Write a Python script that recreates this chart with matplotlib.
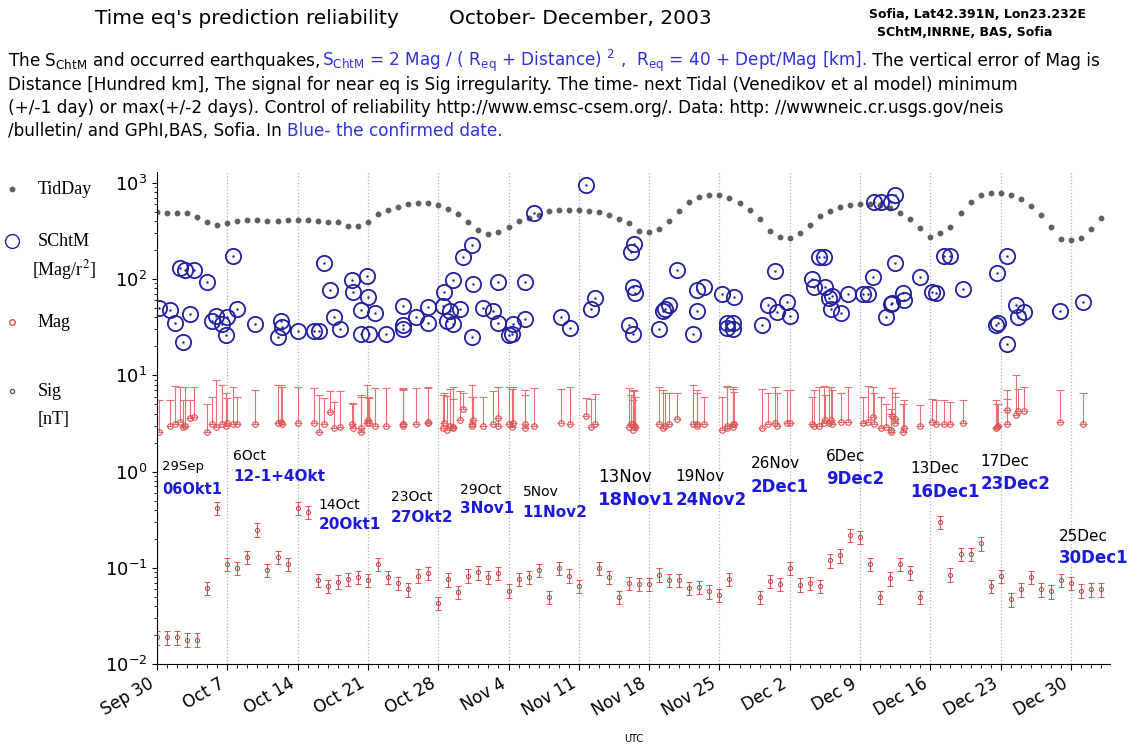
import datetime as dt
import numpy as np
import matplotlib
matplotlib.use("Agg")
import matplotlib.pyplot as plt
import matplotlib.dates as mdates
from matplotlib.lines import Line2D

start = dt.datetime(2003, 9, 30)

# TidDay, one value per day from Sep 30
tid = [490, 488, 485, 485, 437, 388, 367, 380, 400, 405, 405, 400, 400, 408, 410, 405,
       400, 392, 388, 352, 352, 393, 473, 525, 565, 600, 620, 620, 580, 530, 473, 393,
       325, 296, 310, 350, 400, 425, 465, 505, 525, 525, 520, 505, 490, 462, 420, 378,
       316, 308, 331, 397, 505, 625, 705, 745, 740, 694, 620, 521, 423, 313, 275, 265,
       298, 364, 447, 505, 565, 591, 600, 600, 591, 542, 488, 420, 336, 275, 298, 344,
       480, 625, 738, 780, 780, 745, 680, 577, 465, 344, 258, 252, 265, 331, 427]

# SChtM events: day offset from Sep 30 and value
ev_day = [0.2, 1.3, 1.8, 2.3, 2.6, 2.8, 3.3, 3.7, 5.0, 5.5, 5.9, 6.5, 6.9, 7.0, 7.6, 8.0,
          9.8, 12.0, 12.3, 12.4, 14.0, 15.6, 16.1, 16.6, 17.2, 17.6, 18.2, 19.4, 19.5,
          20.3, 20.3, 20.9, 21.0, 21.1, 21.7, 22.8, 24.5, 24.5, 24.5, 25.8, 27.0, 27.0,
          28.5, 28.6, 28.9, 29.2, 29.5, 29.5, 30.2, 30.5, 31.4, 31.5, 31.4, 32.5, 33.5,
          34.0, 34.0, 35.0, 35.3, 35.4, 36.6, 36.6, 37.5, 40.2, 41.1, 42.7, 43.2, 43.6,
          47.0, 47.4, 47.2, 47.5, 47.4, 47.6, 50.0, 50.4, 50.6, 51.0, 51.8, 53.4, 53.8,
          53.8, 54.5, 56.3, 56.8, 56.8, 57.3, 57.3, 57.4, 60.2, 60.8, 61.5, 61.7, 62.7,
          63.0, 65.2, 65.4, 65.9, 66.4, 66.5, 66.9, 67.2, 67.1, 68.1, 68.8, 70.3, 70.8,
          71.3, 71.4, 72.1, 72.6, 73.1, 73.2, 73.5, 73.1, 73.5, 74.3, 74.4, 76.0, 77.2,
          77.6, 78.4, 79.0, 80.2, 83.5, 83.7, 83.6, 84.6, 84.6, 85.5, 85.7, 86.3, 89.9, 92.2]
ev_scht = [50, 48, 35, 131, 22, 125, 43, 125, 92, 37, 41, 34, 26, 40, 175, 49,
           34, 25, 37, 32, 29, 29, 29, 145, 76, 40, 30, 98, 74,
           48, 27, 107, 65, 27, 44, 27, 52, 33, 30, 40, 51, 35,
           53, 74, 37, 46, 98, 34, 49, 168, 227, 89, 25, 50, 46,
           94, 35, 26, 27, 34, 94, 38, 487, 40, 31, 950, 49, 63,
           33, 27, 192, 233, 83, 72, 30, 46, 49, 54, 125, 27, 46,
           77, 82, 70, 35, 31, 35, 30, 65, 33, 54, 120, 45, 57,
           41, 101, 83, 168, 168, 82, 63, 67, 49, 44, 69, 69, 69,
           106, 635, 635, 40, 55, 56, 148, 635, 750, 72, 61, 106, 74,
           72, 175, 175, 78, 33, 35, 116, 175, 21, 54, 40, 45, 46, 57]
ev_mag = [2.6, 3.0, 3.1, 3.3, 2.9, 3.0, 3.6, 3.7, 2.6, 3.1, 2.9, 3.1, 3.0, 3.2, 3.1, 3.1,
          3.1, 3.2, 3.3, 3.1, 3.2, 3.2, 2.6, 3.1, 4.2, 2.8, 2.9, 3.1, 2.8,
          2.8, 2.6, 3.2, 3.4, 3.2, 3.0, 3.0, 3.1, 3.0, 3.1, 3.1, 3.3, 3.2,
          2.8, 3.2, 2.7, 3.0, 2.9, 2.8, 3.4, 4.5, 3.1, 3.4, 3.0, 3.0, 3.1,
          3.6, 3.0, 3.1, 2.9, 3.2, 3.1, 2.8, 3.0, 3.2, 3.1, 3.8, 2.9, 3.1,
          2.9, 2.7, 3.1, 3.0, 3.1, 2.9, 3.1, 2.8, 3.0, 3.1, 3.5, 3.1, 3.0,
          3.1, 3.1, 2.7, 2.8, 3.0, 3.1, 2.9, 3.1, 2.8, 3.1, 3.2, 3.0, 3.2,
          3.2, 3.1, 3.0, 3.0, 3.2, 3.4, 3.2, 3.1, 3.4, 3.3, 3.3, 3.2, 3.3,
          3.7, 3.1, 2.8, 2.9, 2.6, 3.8, 3.5, 2.7, 3.2, 2.6, 2.8, 3.0, 3.3,
          3.1, 3.1, 3.1, 3.2, 2.8, 3.0, 2.9, 3.1, 4.4, 3.9, 4.3, 4.3, 3.3, 3.1]
ev_top = [5.5, 5.6, 7.8, 7.6, 5.5, 7.6, 5.5, 7.6, 5.0, 6.0, 9.0, 7.9, 6.5, 5.8, 7.5, 6.0,
          7.0, 8.0, 7.9, 7.5, 7.6, 7.4, 6.3, 5.8, 6.8, 5.3, 6.8, 5.1, 5.0,
          5.9, 6.2, 7.9, 6.0, 5.8, 7.3, 7.3, 7.2, 7.1, 7.4, 7.3, 7.5, 7.3,
          6.2, 6.5, 6.1, 7.2, 5.7, 7.5, 6.8, 6.6, 8.0, 6.0, 6.0, 5.9, 6.8,
          7.5, 7.5, 7.5, 7.2, 7.5, 7.0, 6.2, 7.3, 7.2, 7.5, 5.8, 5.7, 6.4,
          7.3, 7.0, 6.2, 6.8, 5.6, 6.0, 7.5, 7.0, 6.5, 6.6, 6.6, 8.0, 7.0,
          6.6, 6.0, 6.0, 7.8, 7.5, 7.6, 7.2, 6.7, 7.2, 6.5, 7.6, 6.5, 7.0,
          7.0, 6.0, 7.0, 7.5, 7.8, 6.2, 7.5, 7.0, 7.5, 6.5, 7.6, 6.0, 7.8,
          7.6, 6.5, 6.0, 5.0, 4.0, 7.3, 6.6, 4.5, 6.0, 5.0, 5.5, 4.9, 5.7,
          5.5, 5.6, 5.3, 5.6, 5.5, 5.0, 5.0, 5.7, 7.0, 10.0, 7.2, 7.5, 7.0, 6.5]

# Sig [nT], one value per day (None = no data)
sig = [0.019, 0.019, 0.019, 0.018, 0.018, 0.062, 0.42, 0.11, 0.10, 0.13, 0.25, 0.095,
       0.13, 0.11, 0.42, 0.38, 0.075, 0.065, 0.072, 0.077, 0.080, 0.075, 0.11, 0.080,
       0.070, 0.060, 0.083, 0.088, 0.043, 0.076, 0.056, 0.083, 0.090, 0.080, 0.088,
       0.058, 0.077, 0.080, 0.095, 0.050, 0.10, 0.083, 0.065, None,
       0.10, 0.080, 0.050, 0.070, 0.068, 0.068, 0.085, 0.075, 0.075, 0.062, 0.063,
       0.057, 0.052, 0.077, None, None,
       0.050, 0.073, 0.068, 0.10, 0.067, 0.070, 0.065, 0.12, 0.135, 0.22, 0.21, 0.11,
       0.050, 0.078, 0.11, 0.090, 0.050, None,
       0.30, 0.085, 0.14, 0.14, 0.18, 0.065, 0.082, 0.047, 0.060, 0.080, 0.060, 0.057,
       0.075, 0.070, 0.058, 0.060, 0.060]
sig_err_frac = 0.16

# annotations: day offset, y of date label, y of prediction label, date, prediction, size
notes = [
    (0.5, 1.13, 0.65, "29Sep", "06Okt1", 9.5),
    (7.6, 1.44, 0.89, "6Oct", "12-1+4Okt", 10),
    (16.1, 0.45, 0.28, "14Oct", "20Okt1", 10),
    (23.3, 0.54, 0.33, "23Oct", "27Okt2", 10),
    (30.2, 0.64, 0.41, "29Oct", "3Nov1", 10),
    (36.4, 0.61, 0.38, "5Nov", "11Nov2", 10),
    (43.9, 0.88, 0.51, "13Nov", "18Nov1", 12),
    (51.6, 0.88, 0.51, "19Nov", "24Nov2", 11),
    (59.1, 1.22, 0.69, "26Nov", "2Dec1", 11),
    (66.6, 1.44, 0.83, "6Dec", "9Dec2", 11),
    (75.0, 1.08, 0.62, "13Dec", "16Dec1", 11),
    (82.0, 1.28, 0.74, "17Dec", "23Dec2", 11),
    (89.8, 0.21, 0.126, "25Dec", "30Dec1", 11),
]

def to_dates(days):
    return [start + dt.timedelta(days=d) for d in days]

fig = plt.figure(figsize=(11.32, 7.53), dpi=100)
ax = fig.add_axes([0.1387, 0.118, 0.842, 0.654])

blue = "#2020a0"
red = "#e05050"

ax.plot(to_dates(range(len(tid))), tid, ls="none", marker="o", ms=3.2, color="#606060")
ax.plot(to_dates(ev_day), ev_scht, ls="none", marker="o", ms=11, mfc="none", mec=blue, mew=1.3)
ax.plot(to_dates(ev_day), ev_scht, ls="none", marker=".", ms=1.5, color=blue)

mag = np.array(ev_mag)
top = np.array(ev_top)
ax.errorbar(to_dates(ev_day), mag, yerr=[np.zeros_like(mag), top - mag], fmt="o", ms=4,
            mfc="none", mec=red, ecolor="#e87070", elinewidth=0.8, capsize=3, capthick=0.7, mew=0.8)

sd = [d for d, v in enumerate(sig) if v is not None]
sv = np.array([v for v in sig if v is not None])
ax.errorbar(to_dates(sd), sv, yerr=sv * sig_err_frac, fmt="o", ms=3, mfc="none", mec="#a05050",
            ecolor=red, elinewidth=0.8, capsize=2.5, capthick=0.8, mew=0.7)

for d, y1, y2, lab, pred, fs in notes:
    x = start + dt.timedelta(days=d)
    ax.text(x, y1, lab, fontsize=fs, color="black", va="center", ha="left")
    ax.text(x, y2, pred, fontsize=fs + 1, color="#1a1adc", weight="bold", va="center", ha="left")

ax.set_yscale("log")
ax.set_ylim(1e-2, 1.3e3)
ax.set_xlim(start, start + dt.timedelta(days=94.9))
ax.set_xticks(to_dates(range(0, 95, 7)))
ax.xaxis.set_major_formatter(mdates.DateFormatter("%b %-d"))
ax.xaxis.set_minor_locator(mdates.DayLocator())
ax.tick_params(axis="x", which="major", labelsize=12, length=4)
ax.tick_params(axis="x", which="minor", length=3)
ax.tick_params(axis="y", labelsize=13)
for lbl in ax.get_xticklabels():
    lbl.set_rotation(30)
    lbl.set_ha("right")
ax.grid(axis="x", which="major", ls=":", color="#b0b0b0", lw=0.9)
ax.spines["top"].set_visible(False)
ax.spines["right"].set_visible(False)
ax.set_xlabel("UTC", fontsize=7, labelpad=10)

# left legend
serif = "Liberation Serif"
markers = [(189, dict(marker="o", ms=3.2, color="#606060")),
           (241, dict(marker="o", ms=10, mfc="none", mec=blue)),
           (322, dict(marker="o", ms=4, mfc="none", mec=red)),
           (391, dict(marker="o", ms=3, mfc="none", mec="#606060"))]
for ypx, kw in markers:
    mk = Line2D([0.011], [1 - ypx / 753], ls="none", transform=fig.transFigure, **kw)
    fig.add_artist(mk)
fig.text(0.033, 1 - 189 / 753, "TidDay", family=serif, fontsize=13, va="center")
fig.text(0.033, 1 - 241 / 753, "SChtM", family=serif, fontsize=13, va="center")
fig.text(0.028, 1 - 270 / 753, "[Mag/r$^2$]", family=serif, fontsize=13, va="center", math_fontfamily="stix")
fig.text(0.033, 1 - 322 / 753, "Mag", family=serif, fontsize=13, va="center")
fig.text(0.033, 1 - 391 / 753, "Sig", family=serif, fontsize=13, va="center")
fig.text(0.033, 1 - 420 / 753, "[nT]", family=serif, fontsize=13, va="center")

# header
fig.text(0.084, 1 - 19 / 753, "Time eq's prediction reliability", fontsize=14.5, va="center")
fig.text(0.397, 1 - 19 / 753, "October- December, 2003", fontsize=14.5, va="center")
fig.text(0.768, 1 - 14 / 753, "Sofia, Lat42.391N, Lon23.232E", fontsize=9, weight="bold", va="center")
fig.text(0.775, 1 - 33 / 753, "SChtM,INRNE, BAS, Sofia", fontsize=9, weight="bold", va="center")

fig.canvas.draw()
rend = fig.canvas.get_renderer()

def chain(x, y, parts):
    for txt, col in parts:
        t = fig.text(x, y, txt, fontsize=12.2, color=col, va="baseline")
        bb = t.get_window_extent(rend)
        x = bb.x1 / fig.bbox.width

tb = "#3030e0"
chain(0.007, 1 - 66 / 753, [("The S$_{\\mathregular{ChtM}}$ and occurred earthquakes, ", "black"),
                            ("S$_{\\mathregular{ChtM}}$ = 2 Mag / ( R$_{\\mathregular{eq}}$ + Distance) $^{2}$ ,  R$_{\\mathregular{eq}}$ = 40 + Dept/Mag [km].", tb),
                            (" The vertical error of Mag is", "black")])
chain(0.007, 1 - 90 / 753, [("Distance [Hundred km], The signal for near eq is Sig irregularity. The time- next Tidal (Venedikov et al model) minimum", "black")])
chain(0.007, 1 - 113 / 753, [("(+/-1 day) or max(+/-2 days). Control of reliability http://www.emsc-csem.org/. Data: http: //wwwneic.cr.usgs.gov/neis", "black")])
chain(0.007, 1 - 136 / 753, [("/bulletin/ and GPhI,BAS, Sofia. In ", "black"), ("Blue- the confirmed date.", tb)])

fig.savefig("out.png", dpi=100)
